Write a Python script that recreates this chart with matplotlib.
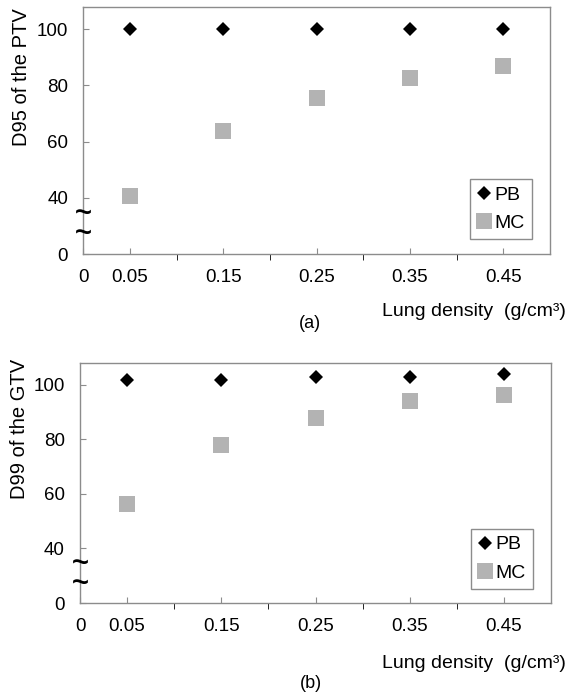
import numpy as np
import matplotlib
matplotlib.use('Agg')
import matplotlib.pyplot as plt
import matplotlib.transforms as mtrans

plt.rcParams['font.family'] = ['Liberation Sans', 'DejaVu Sans']

density = [0.05, 0.15, 0.25, 0.35, 0.45]

# panel (a): D95 of the PTV
pb_a = [100, 100, 100, 100, 100]
mc_a = [40.5, 63.7, 75.4, 82.6, 87.0]

# panel (b): D99 of the GTV
pb_b = [101.8, 101.8, 102.6, 102.6, 103.8]
mc_b = [56.3, 77.8, 87.9, 94.0, 96.0]

yticks = [0, 40, 60, 80, 100]
xticks = [0, 0.05, 0.15, 0.25, 0.35, 0.45]
xtick_labels = ['0', '0.05', '0.15', '0.25', '0.35', '0.45']

frame_col = '#8c8c8c'
mc_col = '#b3b3b3'


# broken y axis: 0..40 squeezed into one tick step
def fwd(y):
    y = np.asarray(y, dtype=float)
    return np.where(y <= 40, y / 2.0, y - 20.0)


def inv(v):
    v = np.asarray(v, dtype=float)
    return np.where(v <= 20, v * 2.0, v + 20.0)


fig = plt.figure(figsize=(5.68, 6.96), dpi=100)


def panel(rect, pb, mc, ylabel, ylab_xy, tag, tag_xy, xlab_y, leg_anchor):
    ax = fig.add_axes(rect)
    ax.set_yscale('function', functions=(fwd, inv))
    ax.plot(density, pb, linestyle='none', marker='D', markersize=7.5,
            color='black', markeredgewidth=0, label='PB')
    ax.plot(density, mc, linestyle='none', marker='s', markersize=11,
            color=mc_col, markeredgewidth=0, label='MC')
    ax.set_xlim(0, 0.5)
    ax.set_ylim(0, 108)
    ax.set_yticks(yticks)
    ax.set_yticklabels([str(t) for t in yticks])
    ax.set_xticks(xticks)
    ax.set_xticklabels(xtick_labels)
    ax.set_xticks(np.arange(0.05, 0.5, 0.05), minor=True)
    ax.tick_params(axis='both', direction='in', color=frame_col, labelsize=13.5)
    ax.tick_params(axis='x', which='both', length=4, pad=11)
    ax.tick_params(axis='y', length=4, pad=11)
    ax.tick_params(top=False, right=False)
    for s in ax.spines.values():
        s.set_color(frame_col)
        s.set_linewidth(1)
    # axis break marks
    tr = mtrans.blended_transform_factory(ax.transAxes, ax.transData)
    ax.text(0, 22, '~\n~', transform=tr, ha='center', va='center',
            fontsize=21, fontweight='bold', linespacing=0.62, clip_on=False)
    leg = ax.legend(loc='lower right', bbox_to_anchor=leg_anchor, fontsize=14,
                    frameon=True, fancybox=False, framealpha=1,
                    edgecolor=frame_col, handlelength=0.7, handletextpad=0.2,
                    labelspacing=0.55, borderpad=0.35, borderaxespad=0)
    leg.get_frame().set_linewidth(1)
    fig.text(ylab_xy[0] / 568, 1 - ylab_xy[1] / 696, ylabel, rotation=90,
             ha='center', va='center', fontsize=14.5)
    fig.text(566 / 568, 1 - xlab_y / 696, 'Lung density  (g/cm³)',
             ha='right', va='center', fontsize=14)
    fig.text(tag_xy[0] / 568, 1 - tag_xy[1] / 696, tag,
             ha='center', va='center', fontsize=13)
    return ax


panel([83.3 / 568, 1 - 254 / 696, 466.7 / 568, 247.3 / 696],
      pb_a, mc_a, 'D95 of the PTV', (22, 77), '(a)', (310, 323), 312,
      (0.961, 0.061))

panel([80 / 568, 1 - 603 / 696, 471 / 568, 240.3 / 696],
      pb_b, mc_b, 'D99 of the GTV', (20, 429), '(b)', (311, 684), 664,
      (0.961, 0.06))

fig.savefig('out.png', dpi=100)
